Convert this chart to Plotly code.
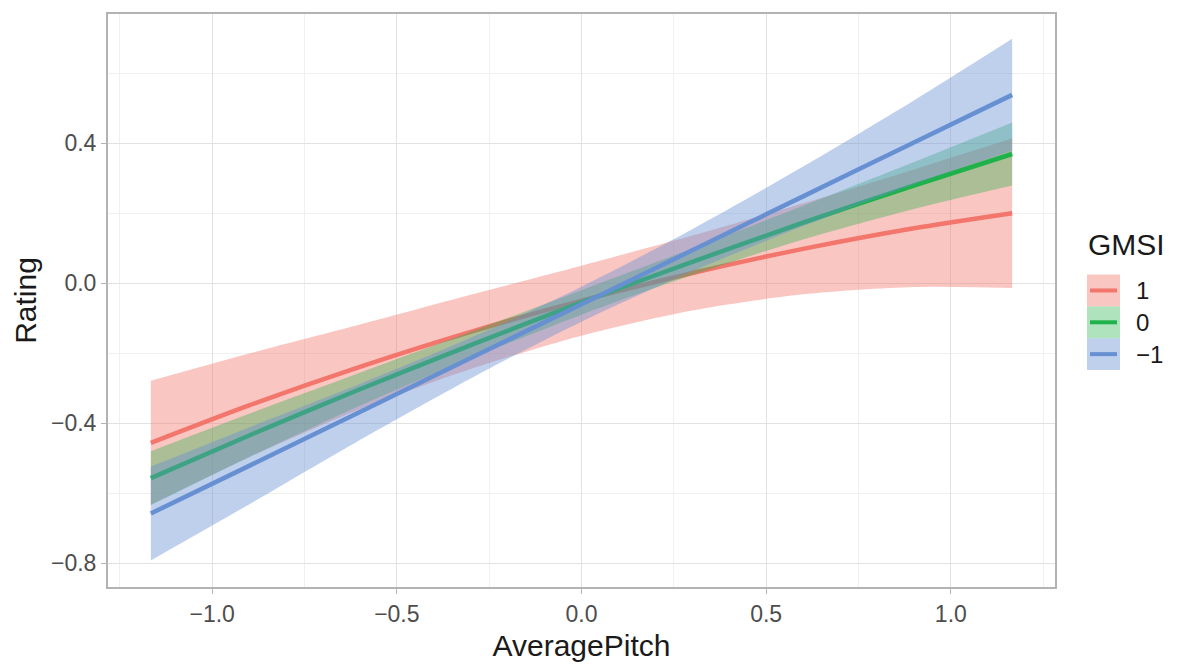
import plotly.graph_objects as go

# Predicted rating vs. average pitch, by GMSI level, with confidence ribbons
pitch = [-1.166, -0.9, -0.6, -0.3, 0.0, 0.3, 0.6, 0.9, 1.166]

gmsi_levels = ["1", "0", "\u22121"]

fit_pos = [-0.456, -0.349, -0.239, -0.139, -0.050, 0.029, 0.098, 0.157, 0.200]
lo_pos = [-0.633, -0.497, -0.360, -0.245, -0.150, -0.078, -0.032, -0.011, -0.014]
hi_pos = [-0.279, -0.201, -0.118, -0.033, 0.050, 0.136, 0.228, 0.325, 0.414]

fit_zero = [-0.557, -0.435, -0.303, -0.177, -0.055, 0.061, 0.173, 0.279, 0.369]
lo_zero = [-0.634, -0.497, -0.350, -0.215, -0.090, 0.023, 0.125, 0.212, 0.279]
hi_zero = [-0.480, -0.373, -0.256, -0.139, -0.020, 0.099, 0.221, 0.346, 0.459]

fit_neg = [-0.658, -0.522, -0.368, -0.214, -0.060, 0.094, 0.248, 0.402, 0.538]
lo_neg = [-0.792, -0.632, -0.448, -0.272, -0.110, 0.034, 0.163, 0.282, 0.378]
hi_neg = [-0.524, -0.412, -0.288, -0.156, -0.010, 0.154, 0.333, 0.522, 0.698]

x_ticks = [-1.0, -0.5, 0.0, 0.5, 1.0]
x_tick_text = ["\u22121.0", "\u22120.5", "0.0", "0.5", "1.0"]
y_ticks = [-0.8, -0.4, 0.0, 0.4]
y_tick_text = ["\u22120.8", "\u22120.4", "0.0", "0.4"]

line_colors = ["#F3766C", "#1FB24A", "#6790D3"]
fill_colors = ["rgba(243,118,108,0.42)", "rgba(31,178,74,0.36)", "rgba(103,144,211,0.42)"]

series = [
    (fit_pos, lo_pos, hi_pos),
    (fit_zero, lo_zero, hi_zero),
    (fit_neg, lo_neg, hi_neg),
]

FONT = "Liberation Sans, Arial, Helvetica, sans-serif"
SMOOTH = dict(shape="spline", smoothing=0.8)

fig = go.Figure()
for (fit, lo, hi), lc, fc in zip(series, line_colors, fill_colors):
    # ribbon: lower edge, then upper edge filled down to it
    fig.add_trace(go.Scatter(
        x=pitch, y=lo, mode="lines", line=dict(width=0, **SMOOTH),
        hoverinfo="skip", showlegend=False,
    ))
    fig.add_trace(go.Scatter(
        x=pitch, y=hi, mode="lines", line=dict(width=0, **SMOOTH),
        fill="tonexty", fillcolor=fc, hoverinfo="skip", showlegend=False,
    ))
    fig.add_trace(go.Scatter(
        x=pitch, y=fit, mode="lines",
        line=dict(color=lc, width=4.5, **SMOOTH),
        showlegend=False,
    ))

# plot-area geometry in pixels (used to position the hand-built legend)
W, H = 1193, 669
ML, MR, MT, MB = 108, 138, 12, 72
PW, PH = W - ML - MR, H - MT - MB


def px(xp):
    return (xp - ML) / PW


def py(yp):
    return (H - MB - yp) / PH


shapes = []
annotations = []
key_top = 278
key_h = 32.5
for i, (lab, lc, fc) in enumerate(zip(gmsi_levels, line_colors, fill_colors)):
    y0 = key_top + i * key_h
    y1 = y0 + key_h
    shapes.append(dict(type="rect", xref="paper", yref="paper",
                       x0=px(1087), x1=px(1120), y0=py(y1), y1=py(y0),
                       fillcolor=fc, line=dict(width=0), layer="above"))
    shapes.append(dict(type="line", xref="paper", yref="paper",
                       x0=px(1090), x1=px(1117), y0=py((y0 + y1) / 2), y1=py((y0 + y1) / 2),
                       line=dict(color=lc, width=4), layer="above"))
    annotations.append(dict(text=lab, xref="paper", yref="paper",
                            x=px(1134), y=py((y0 + y1) / 2), xanchor="left", yanchor="middle",
                            showarrow=False, font=dict(family=FONT, size=24, color="#1A1A1A")))

annotations.append(dict(text="GMSI", xref="paper", yref="paper",
                        x=px(1086), y=py(247), xanchor="left", yanchor="middle",
                        showarrow=False, font=dict(family=FONT, size=30, color="#1A1A1A")))

axis_common = dict(
    showline=True, mirror=True, linecolor="#B3B3B3", linewidth=2,
    showgrid=True, gridcolor="#E2E2E2", gridwidth=1,
    ticks="outside", ticklen=5, tickwidth=1, tickcolor="#B3B3B3",
    tickfont=dict(family=FONT, size=23, color="#4D4D4D"),
    zeroline=False,
)

fig.update_layout(
    width=W, height=H,
    margin=dict(l=ML, r=MR, t=MT, b=MB),
    paper_bgcolor="white", plot_bgcolor="white",
    font=dict(family=FONT),
    shapes=shapes, annotations=annotations,
    xaxis=dict(
        axis_common, range=[-1.282, 1.282],
        tickvals=x_ticks, ticktext=x_tick_text,
        minor=dict(dtick=0.25, tick0=0.25, showgrid=True, gridcolor="#F0F0F0", gridwidth=1, ticks=""),
        title=dict(text="AveragePitch", font=dict(family=FONT, size=30, color="#1A1A1A"), standoff=9),
    ),
    yaxis=dict(
        axis_common, range=[-0.868, 0.769],
        tickvals=y_ticks, ticktext=y_tick_text,
        minor=dict(dtick=0.2, tick0=0.2, showgrid=True, gridcolor="#F0F0F0", gridwidth=1, ticks=""),
        title=dict(text="Rating", font=dict(family=FONT, size=30, color="#1A1A1A"), standoff=5),
    ),
)

fig.write_html("out.html")
